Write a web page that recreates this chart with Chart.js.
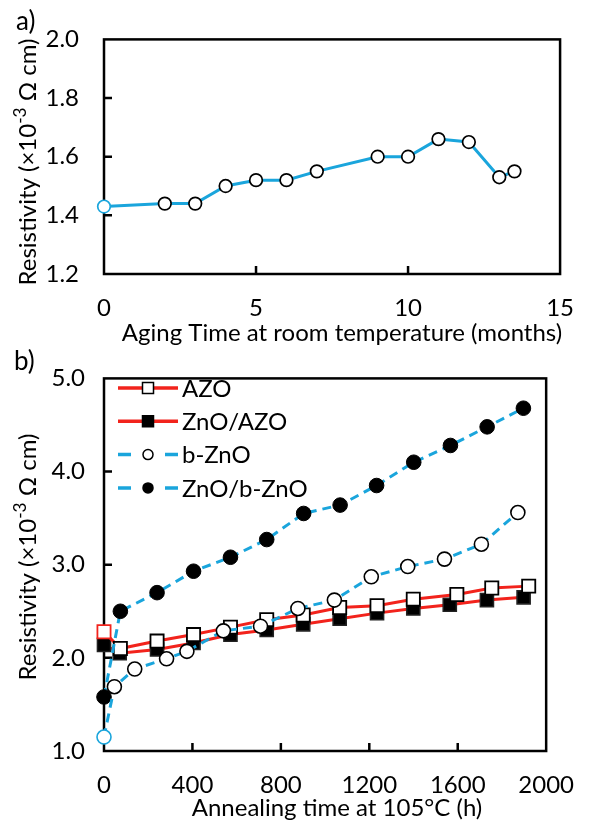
<!DOCTYPE html>
<html>
<head>
<meta charset="utf-8">
<script src="https://cdn.jsdelivr.net/npm/chart.js@4.4.1/dist/chart.umd.min.js"></script>
<style>
    html, body { margin: 0; padding: 0; background: #fff; }
    canvas { display: block; }
</style>
</head>
<body>
<canvas id="aging-chart" width="594" height="345"></canvas>
<canvas id="anneal-chart" width="594" height="477"></canvas>
<script>
// --- Data: a) aging at room temperature ---
const agingMonths = [0, 2, 3, 4, 5, 6, 7, 9, 10, 11, 12, 13, 13.5];
const agingResistivity = [1.43, 1.44, 1.44, 1.50, 1.52, 1.52, 1.55, 1.60, 1.60, 1.66, 1.65, 1.53, 1.55];
const agingXTicks = [0, 5, 10, 15];
const agingYTicks = [1.2, 1.4, 1.6, 1.8, 2.0];

// --- Data: b) annealing at 105°C ---
const azoHours = [0, 74, 240, 405, 572, 736, 901, 1066, 1235, 1399, 1596, 1754, 1921];
const azoRes = [2.28, 2.10, 2.18, 2.25, 2.33, 2.41, 2.46, 2.54, 2.56, 2.63, 2.68, 2.75, 2.77];
const znoAzoHours = [0, 71, 240, 405, 572, 736, 901, 1066, 1235, 1399, 1564, 1732, 1898];
const znoAzoRes = [2.14, 2.05, 2.09, 2.16, 2.25, 2.30, 2.36, 2.42, 2.48, 2.53, 2.57, 2.62, 2.65];
const bZnoHours = [0, 47, 139, 283, 375, 540, 708, 877, 1042, 1209, 1374, 1540, 1707, 1872];
const bZnoRes = [1.15, 1.69, 1.88, 1.99, 2.07, 2.29, 2.34, 2.53, 2.62, 2.87, 2.98, 3.06, 3.22, 3.56];
const znoBZnoHours = [0, 74, 240, 405, 572, 736, 903, 1068, 1233, 1401, 1567, 1733, 1897];
const znoBZnoRes = [1.58, 2.50, 2.70, 2.93, 3.08, 3.27, 3.55, 3.64, 3.85, 4.10, 4.28, 4.48, 4.68];
const annealXTicks = [0, 400, 800, 1200, 1600, 2000];
const annealYTicks = [1, 2, 3, 4, 5];

const FONT = 'Lato, "Open Sans", sans-serif';
const TEXT_SIZE = 24;
const BLUE = '#1AA5DC';
const RED = '#F2231C';

function toPoints(xs, ys) {
    return xs.map((x, i) => ({ x: x, y: ys[i] }));
}

// first marker of a series is drawn in a different edge colour
function edgeColors(n, first, rest) {
    return Array.from({ length: n }, (_, i) => (i === 0 ? first : rest));
}

// --- Frame, inside tick marks and titles ---

const framePlugin = {
    id: 'frame',
    beforeDatasetsDraw(chart, args, opts) {
        const { ctx, chartArea: a, scales } = chart;
        ctx.save();
        ctx.strokeStyle = '#000';
        ctx.lineWidth = 2.5;
        ctx.strokeRect(a.left, a.top, a.right - a.left, a.bottom - a.top);
        ctx.beginPath();
        scales.x.ticks.forEach(t => {
            const px = scales.x.getPixelForValue(t.value);
            if (px <= a.left + 1 || px >= a.right - 1) return;
            ctx.moveTo(px, a.bottom);
            ctx.lineTo(px, a.bottom - 8);
        });
        scales.y.ticks.forEach(t => {
            const py = scales.y.getPixelForValue(t.value);
            if (py <= a.top + 1 || py >= a.bottom - 1) return;
            ctx.moveTo(a.left, py);
            ctx.lineTo(a.left + 8, py);
        });
        ctx.stroke();
        ctx.restore();
    },
    afterDraw(chart, args, opts) {
        const ctx = chart.ctx;
        ctx.save();
        ctx.fillStyle = '#000';

        // panel label
        ctx.font = `26px ${FONT}`;
        ctx.textAlign = 'left';
        ctx.textBaseline = 'middle';
        ctx.fillText(opts.panel, opts.panelX, opts.panelY);

        // x title
        ctx.font = `${TEXT_SIZE}px ${FONT}`;
        ctx.textAlign = 'center';
        ctx.fillText(opts.xTitle, opts.xTitleX, opts.xTitleY);

        // y title with superscript
        ctx.translate(opts.yTitleX, opts.yTitleY);
        ctx.rotate(-Math.PI / 2);
        const size = TEXT_SIZE;
        const parts = [
            { t: 'Resistivity (\u00d710', s: size, dy: 0 },
            { t: '-3', s: size * 0.72, dy: -size * 0.33 },
            { t: ' \u03a9 cm)', s: size, dy: 0 },
        ];
        let total = 0;
        parts.forEach(p => {
            ctx.font = `${p.s}px ${FONT}`;
            p.w = ctx.measureText(p.t).width;
            total += p.w;
        });
        let x = -total / 2;
        ctx.textAlign = 'left';
        parts.forEach(p => {
            ctx.font = `${p.s}px ${FONT}`;
            ctx.fillText(p.t, x, p.dy);
            x += p.w;
        });
        ctx.restore();
    },
};

// --- Legend for panel b ---

const legendPlugin = {
    id: 'sampleLegend',
    afterDraw(chart, args, opts) {
        if (!opts.show) return;
        const ctx = chart.ctx;
        ctx.save();
        chart.data.datasets.forEach((ds, i) => {
            const y = opts.top + i * opts.rowGap;
            ctx.strokeStyle = ds.borderColor;
            ctx.lineWidth = 3.5;
            ctx.beginPath();
            if (ds.borderDash && ds.borderDash.length) {
                ctx.moveTo(opts.lineStart, y); ctx.lineTo(opts.lineStart + 13, y);
                ctx.moveTo(opts.lineEnd - 13, y); ctx.lineTo(opts.lineEnd, y);
            } else {
                ctx.moveTo(opts.lineStart, y); ctx.lineTo(opts.lineEnd, y);
            }
            ctx.stroke();

            const mx = (opts.lineStart + opts.lineEnd) / 2;
            ctx.fillStyle = ds.legendFill;
            ctx.strokeStyle = '#000';
            ctx.lineWidth = 1.5;
            ctx.beginPath();
            if (ds.pointStyle === 'rect') {
                ctx.rect(mx - 5.5, y - 5.5, 11, 11);
            } else {
                ctx.arc(mx, y, 5, 0, Math.PI * 2);
            }
            ctx.fill();
            ctx.stroke();

            ctx.fillStyle = '#000';
            ctx.font = `${TEXT_SIZE}px ${FONT}`;
            ctx.textAlign = 'left';
            ctx.textBaseline = 'middle';
            ctx.fillText(ds.label, opts.textX, y + 1);
        });
        ctx.restore();
    },
};

function axisOptions(min, max, tickValues, width, height, yPad, xFmt) {
    const tickFont = { family: FONT, size: TEXT_SIZE };
    return {
        x: {
            type: 'linear',
            min: min[0], max: max[0],
            afterBuildTicks: s => { s.ticks = tickValues[0].map(v => ({ value: v })); },
            afterFit: s => { s.height = height; },
            grid: { display: false, drawTicks: false },
            border: { display: false },
            ticks: { color: '#000', font: tickFont, padding: 20, maxRotation: 0, callback: xFmt },
        },
        y: {
            type: 'linear',
            min: min[1], max: max[1],
            afterBuildTicks: s => { s.ticks = tickValues[1].map(v => ({ value: v })); },
            afterFit: s => { s.width = width; },
            grid: { display: false, drawTicks: false },
            border: { display: false },
            ticks: { color: '#000', font: tickFont, padding: yPad, callback: v => v.toFixed(1) },
        },
    };
}

// --- Panel a ---

new Chart(document.getElementById('aging-chart'), {
    type: 'scatter',
    data: {
        datasets: [{
            label: 'Aging',
            data: toPoints(agingMonths, agingResistivity),
            showLine: true,
            borderColor: BLUE,
            borderWidth: 3,
            pointRadius: 6.3,
            pointHoverRadius: 6.3,
            pointBackgroundColor: '#fff',
            pointBorderColor: edgeColors(agingMonths.length, BLUE, '#000'),
            pointBorderWidth: 1.7,
            clip: false,
        }],
    },
    options: {
        responsive: false,
        animation: false,
        layout: { padding: { left: 0, top: 32, right: 25, bottom: 0 } },
        scales: axisOptions([0, 1.2], [15, 2.0], [agingXTicks, agingYTicks], 104, 71, 25, v => String(v)),
        plugins: {
            legend: { display: false },
            tooltip: { enabled: false },
            frame: {
                panel: 'a)', panelX: 16, panelY: 22,
                xTitle: 'Aging Time at room temperature (months)', xTitleX: 342, xTitleY: 333,
                yTitleX: 28, yTitleY: 162,
            },
        },
    },
    plugins: [framePlugin],
});

// --- Panel b ---

new Chart(document.getElementById('anneal-chart'), {
    type: 'scatter',
    data: {
        datasets: [
            {
                label: 'AZO',
                data: toPoints(azoHours, azoRes),
                showLine: true,
                borderColor: RED,
                borderWidth: 3,
                pointStyle: 'rect',
                pointRadius: 9.3,
                pointHoverRadius: 9.3,
                pointBackgroundColor: '#fff',
                pointBorderColor: edgeColors(azoHours.length, RED, '#000'),
                pointBorderWidth: 1.8,
                legendFill: '#fff',
                order: 2,
                clip: false,
            },
            {
                label: 'ZnO/AZO',
                data: toPoints(znoAzoHours, znoAzoRes),
                showLine: true,
                borderColor: RED,
                borderWidth: 3,
                pointStyle: 'rect',
                pointRadius: 9.3,
                pointHoverRadius: 9.3,
                pointBackgroundColor: '#000',
                pointBorderColor: '#222',
                pointBorderWidth: 1.5,
                legendFill: '#000',
                order: 3,
                clip: false,
            },
            {
                label: 'b-ZnO',
                data: toPoints(bZnoHours, bZnoRes),
                showLine: true,
                borderColor: BLUE,
                borderWidth: 3,
                borderDash: [9, 6],
                pointRadius: 7,
                pointHoverRadius: 7,
                pointBackgroundColor: '#fff',
                pointBorderColor: edgeColors(bZnoHours.length, BLUE, '#000'),
                pointBorderWidth: 1.6,
                legendFill: '#fff',
                order: 0,
                clip: false,
            },
            {
                label: 'ZnO/b-ZnO',
                data: toPoints(znoBZnoHours, znoBZnoRes),
                showLine: true,
                borderColor: BLUE,
                borderWidth: 3,
                borderDash: [9, 6],
                pointRadius: 7.3,
                pointHoverRadius: 7.3,
                pointBackgroundColor: '#000',
                pointBorderColor: '#000',
                pointBorderWidth: 1,
                legendFill: '#000',
                order: 1,
                clip: false,
            },
        ],
    },
    options: {
        responsive: false,
        animation: false,
        layout: { padding: { left: 0, top: 22, right: 27, bottom: 0 } },
        scales: axisOptions([0, 1], [2000, 5], [annealXTicks, annealYTicks], 104, 71, 19, v => String(v)),
        plugins: {
            legend: { display: false },
            tooltip: { enabled: false },
            frame: {
                panel: 'b)', panelX: 14, panelY: 17,
                xTitle: 'Annealing time at 105\u00b0C (h)', xTitleX: 337, xTitleY: 463,
                yTitleX: 28, yTitleY: 212,
            },
            sampleLegend: {
                show: true, top: 43, rowGap: 33.3,
                lineStart: 118, lineEnd: 178, textX: 182,
            },
        },
    },
    plugins: [framePlugin, legendPlugin],
});
</script>
</body>
</html>
